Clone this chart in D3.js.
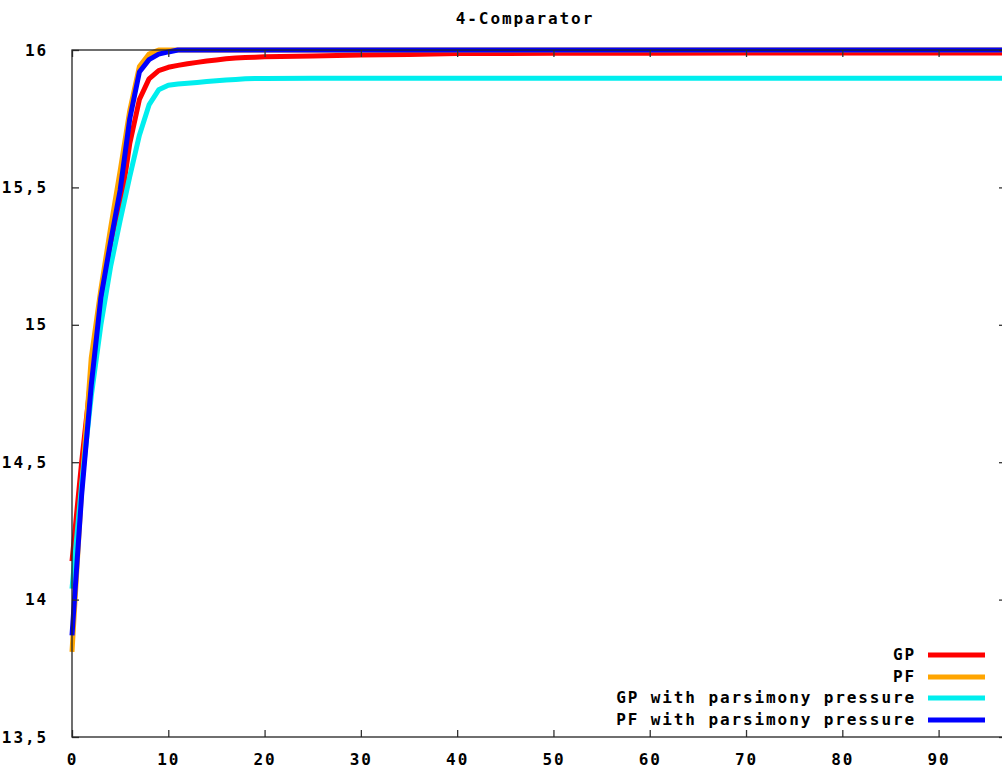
<!DOCTYPE html>
<html>
<head>
<meta charset="utf-8">
<script src="https://cdn.jsdelivr.net/npm/d3@7/dist/d3.min.js"></script>
<style>
  html, body { margin: 0; padding: 0; background: #fff; }
  svg { display: block; }
  text { font-family: "DejaVu Sans Mono", "Liberation Mono", monospace; font-weight: bold; fill: #000; }
</style>
</head>
<body>
<svg id="chart" width="1002" height="774"></svg>
<script>
// Generations at which the mean best fitness was sampled
const generations = [0, 1, 2, 3, 4, 5, 6, 7, 8, 9, 10, 11, 12, 13, 14, 15, 16, 17, 18, 19, 20,
                     25, 30, 35, 40, 50, 60, 70, 80, 90, 100];

const seriesNames = ["GP", "PF", "GP with parsimony pressure", "PF with parsimony pressure"];
const seriesColors = ["#ff0000", "#ffa500", "#00eeee", "#0000ff"];

const gpValues = [14.14, 14.50, 14.82, 15.08, 15.27, 15.42, 15.66, 15.82, 15.895, 15.925, 15.937,
                  15.944, 15.950, 15.955, 15.960, 15.964, 15.968, 15.971, 15.973, 15.974, 15.975,
                  15.978, 15.982, 15.984, 15.987, 15.988, 15.988, 15.989, 15.989, 15.989, 15.989];

const pfValues = [13.81, 14.40, 14.88, 15.13, 15.35, 15.56, 15.78, 15.94, 15.985, 16.0, 16.0,
                  16.0, 16.0, 16.0, 16.0, 16.0, 16.0, 16.0, 16.0, 16.0, 16.0,
                  16.0, 16.0, 16.0, 16.0, 16.0, 16.0, 16.0, 16.0, 16.0, 16.0];

const gpParsValues = [14.04, 14.42, 14.74, 15.00, 15.21, 15.38, 15.54, 15.69, 15.80, 15.855, 15.872,
                      15.876, 15.879, 15.882, 15.885, 15.888, 15.891, 15.893, 15.895, 15.896, 15.896,
                      15.897, 15.897, 15.897, 15.897, 15.897, 15.897, 15.897, 15.897, 15.897, 15.897];

const pfParsValues = [13.87, 14.38, 14.78, 15.10, 15.30, 15.49, 15.75, 15.92, 15.965, 15.985, 15.993,
                      16.0, 16.0, 16.0, 16.0, 16.0, 16.0, 16.0, 16.0, 16.0, 16.0,
                      16.0, 16.0, 16.0, 16.0, 16.0, 16.0, 16.0, 16.0, 16.0, 16.0];

const xTickValues = [0, 10, 20, 30, 40, 50, 60, 70, 80, 90];
const yTickValues = [13.5, 14, 14.5, 15, 15.5, 16];

const titleText = "4-Comparator";

// Layout of the plot frame
const plotLeft = 72, plotTop = 50, plotRight = 1006, plotBottom = 737;
const svg = d3.select("#chart");

const x = d3.scaleLinear().domain([0, 97]).range([plotLeft, plotRight]);
const y = d3.scaleLinear().domain([13.5, 16]).range([plotBottom, plotTop]);

const commaLocale = d3.formatLocale({ decimal: ",", thousands: ".", grouping: [3], currency: ["", ""] });
const yFmt = commaLocale.format(".1~f");

const fontSize = "16px", letterSpacing = "1.9px";

// Title
svg.append("text")
  .attr("x", 525)
  .attr("y", 19)
  .attr("text-anchor", "middle")
  .attr("dominant-baseline", "middle")
  .style("font-size", fontSize)
  .style("letter-spacing", letterSpacing)
  .text(titleText);

// Series lines
const allSeries = [gpValues, pfValues, gpParsValues, pfParsValues];
const line = d3.line()
  .x((d, i) => x(generations[i]))
  .y(d => y(d));

allSeries.forEach((vals, k) => {
  svg.append("path")
    .datum(vals)
    .attr("fill", "none")
    .attr("stroke", seriesColors[k])
    .attr("stroke-width", 5)
    .attr("stroke-linejoin", "round")
    .attr("d", line);
});

// Axes: ticks point inwards, mirrored on top and right
function styleAxis(g) {
  g.select(".domain").remove();
  g.selectAll(".tick line").attr("stroke", "#333").attr("stroke-width", 1.3);
  g.selectAll("text").style("font-size", fontSize).style("letter-spacing", letterSpacing).attr("fill", "#000");
}

svg.append("g")
  .attr("transform", `translate(0,${plotBottom})`)
  .call(d3.axisBottom(x).tickValues(xTickValues).tickSizeInner(-7).tickSizeOuter(0).tickPadding(17))
  .call(styleAxis);

svg.append("g")
  .attr("transform", `translate(0,${plotTop})`)
  .call(d3.axisTop(x).tickValues(xTickValues).tickSizeInner(-7).tickSizeOuter(0).tickFormat(""))
  .call(styleAxis);

svg.append("g")
  .attr("transform", `translate(${plotLeft},0)`)
  .call(d3.axisLeft(y).tickValues(yTickValues).tickSizeInner(-7).tickSizeOuter(0).tickPadding(24).tickFormat(yFmt))
  .call(styleAxis);

svg.append("g")
  .attr("transform", `translate(${plotRight},0)`)
  .call(d3.axisRight(y).tickValues(yTickValues).tickSizeInner(-7).tickSizeOuter(0).tickFormat(""))
  .call(styleAxis);

// Plot border
svg.append("rect")
  .attr("x", plotLeft).attr("y", plotTop)
  .attr("width", plotRight - plotLeft).attr("height", plotBottom - plotTop)
  .attr("fill", "none")
  .attr("stroke", "#222")
  .attr("stroke-width", 1.3);

// Legend (bottom right, inside the plot)
const legendRowY = [655, 677, 698, 720];
seriesNames.forEach((name, k) => {
  svg.append("text")
    .attr("x", 916)
    .attr("y", legendRowY[k])
    .attr("text-anchor", "end")
    .attr("dominant-baseline", "middle")
    .style("font-size", fontSize)
    .style("letter-spacing", letterSpacing)
    .text(name);
  svg.append("line")
    .attr("x1", 928).attr("x2", 985)
    .attr("y1", legendRowY[k]).attr("y2", legendRowY[k])
    .attr("stroke", seriesColors[k])
    .attr("stroke-width", 5);
});
</script>
</body>
</html>
